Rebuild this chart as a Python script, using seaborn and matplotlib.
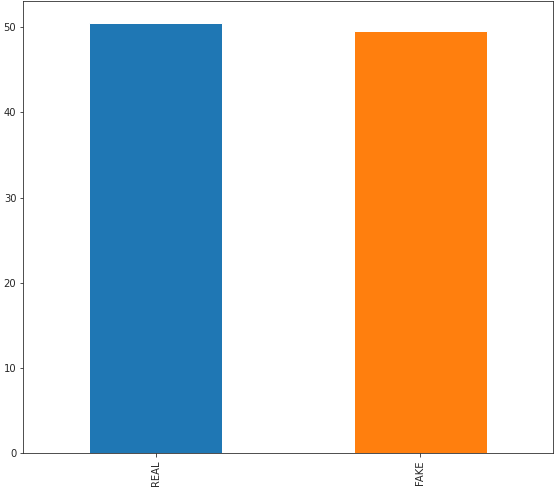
import pandas as pd
import matplotlib
matplotlib.use("Agg")
import matplotlib.pyplot as plt
import seaborn as sns

# Share of labels in the dataset (percent)
labels = ["REAL", "FAKE"]
percent = [50.5, 49.6]
colors = ["#1f77b4", "#ff7f0e"]

df = pd.DataFrame({"label": labels, "percent": percent})

sns.set_style("ticks")
plt.rcParams["font.family"] = ["DejaVu Sans"]

fig, ax = plt.subplots(figsize=(554 / 72, 492 / 72), dpi=72)
sns.barplot(data=df, x="label", y="percent", hue="label", palette=colors,
            width=0.5, saturation=1, legend=False, ax=ax)

ax.set_xlabel("")
ax.set_ylabel("")
ax.tick_params(axis="x", labelrotation=90)
ax.tick_params(labelsize=10, length=3.5, colors=".15")
for side in ["top", "right", "left", "bottom"]:
    ax.spines[side].set_visible(True)
    ax.spines[side].set_color(".15")
ax.set_xlim(-0.5, 1.5)

fig.subplots_adjust(left=0.042, right=0.998, top=0.997, bottom=0.079)
fig.savefig("out.png", dpi=72)
